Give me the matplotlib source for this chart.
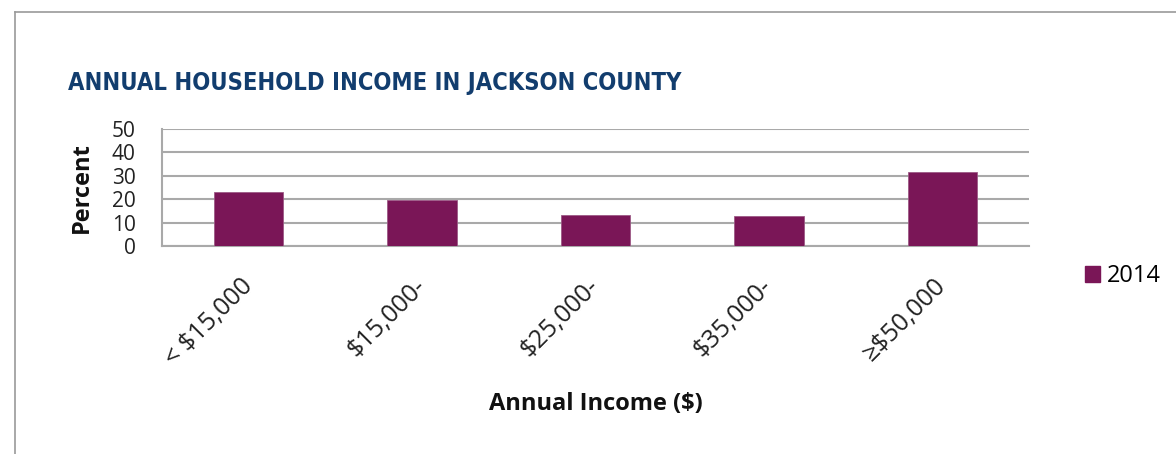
import matplotlib
matplotlib.use("Agg")
import matplotlib.pyplot as plt
from matplotlib.lines import Line2D
from matplotlib.patches import Patch

categories = ["< $15,000", "$15,000-", "$25,000-", "$35,000-", "≥$50,000"]
percent_2014 = [23.1, 19.5, 13.4, 12.7, 31.7]
y_ticks = [0, 10, 20, 30, 40, 50]
series_name = "2014"

bar_color = "#7a1657"
grid_color = "#a9a9a9"
title_color = "#123d6e"
body_font = ["Open Sans", "DejaVu Sans"]

W, H = 1176, 454
fig = plt.figure(figsize=(W / 100, H / 100), dpi=100)

# light frame around the panel (top and left edges)
fig.add_artist(Line2D([15 / W, 1.0], [1 - 12 / H, 1 - 12 / H],
                      transform=fig.transFigure, color="#9a9a9a", lw=1.2))
fig.add_artist(Line2D([15 / W, 15 / W], [0.0, 1 - 12 / H],
                      transform=fig.transFigure, color="#9a9a9a", lw=1.2))

fig.text(68 / W, 1 - 83 / H, "ANNUAL HOUSEHOLD INCOME IN JACKSON COUNTY",
         family="DejaVu Sans", stretch="condensed", weight="bold",
         fontsize=17, color=title_color, va="center", ha="left")

ax = fig.add_axes([162 / W, 1 - 246 / H, (1029 - 162) / W, (246 - 129) / H])

x = list(range(len(categories)))
ax.bar(x, percent_2014, width=0.40, color=bar_color, edgecolor="#9c5a86",
       linewidth=0.6, zorder=3)

ax.set_xlim(-0.5, len(categories) - 0.5)
ax.set_ylim(0, 50)
ax.set_yticks(y_ticks)
ax.yaxis.grid(True, color=grid_color, lw=1.5, zorder=0)
ax.set_axisbelow(True)

for side in ("top", "right"):
    ax.spines[side].set_visible(False)
for side in ("left", "bottom"):
    ax.spines[side].set_color(grid_color)
    ax.spines[side].set_linewidth(1.5)

ax.tick_params(axis="both", length=0)
ax.tick_params(axis="y", pad=19)
ax.tick_params(axis="x", pad=26)
for lab in ax.get_yticklabels():
    lab.set_family(body_font)
    lab.set_fontsize(15)
    lab.set_color("#222222")

ax.set_xticks(x)
ax.set_xticklabels(categories, rotation=45, ha="right", va="center",
                   rotation_mode="anchor", family=body_font, fontsize=18,
                   color="#222222")

ax.set_ylabel("Percent", family=body_font, weight="bold", fontsize=17,
              color="#111111", va="center")
ax.yaxis.set_label_coords(-0.092, 0.5)
ax.set_xlabel("Annual Income ($)", family=body_font, weight="bold",
              fontsize=17, color="#111111", va="center")
ax.xaxis.set_label_coords(0.5, (246 - 404) / (246 - 129))

fig.legend(handles=[Patch(facecolor=bar_color, edgecolor=bar_color, label=series_name)],
           loc="center left", bbox_to_anchor=(1085 / W, 1 - 276 / H), frameon=False,
           prop={"family": body_font, "size": 17}, handlelength=0.64,
           handleheight=0.64, handletextpad=0.3, borderpad=0, borderaxespad=0)

fig.savefig("out.png", dpi=100, facecolor="white")
